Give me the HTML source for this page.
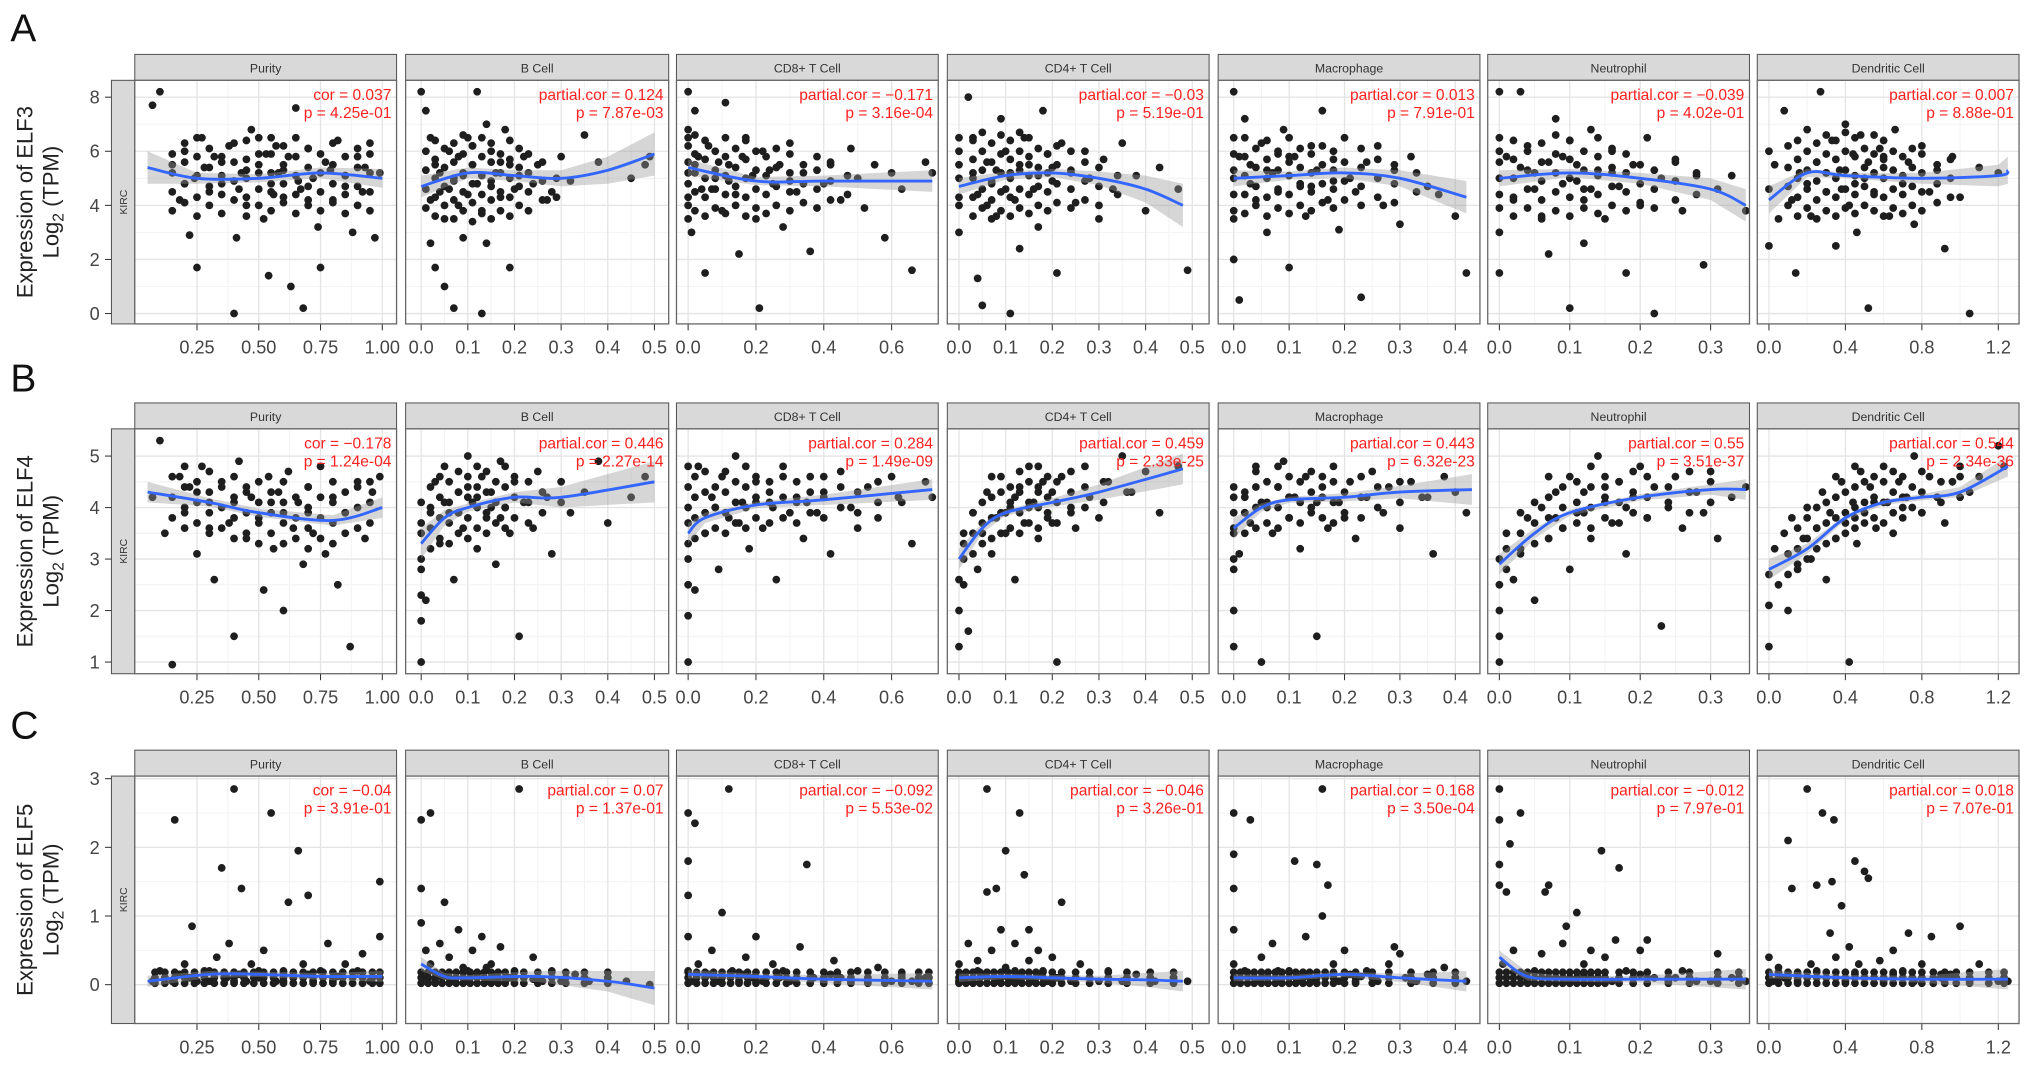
<!DOCTYPE html>
<html><head><meta charset="utf-8"><style>
html,body{margin:0;padding:0;background:#fff}
svg{display:block;font-family:"Liberation Sans",sans-serif}
</style></head><body>
<svg id="fig" width="2032" height="1065" viewBox="0 0 1568 822" preserveAspectRatio="none" xmlns="http://www.w3.org/2000/svg"></svg>
<script>
const cellTypes=["Purity","B Cell","CD8+ T Cell","CD4+ T Cell","Macrophage","Neutrophil","Dendritic Cell"];
const genes=["ELF3","ELF4","ELF5"];
const rowLetters=["A","B","C"];
const xTicks=[[0.25,0.5,0.75,1.0],[0,0.1,0.2,0.3,0.4,0.5],[0,0.2,0.4,0.6],[0,0.1,0.2,0.3,0.4,0.5],[0,0.1,0.2,0.3,0.4],[0,0.1,0.2,0.3],[0,0.4,0.8,1.2]];
const xTickLabels=[["0.25","0.50","0.75","1.00"],["0.0","0.1","0.2","0.3","0.4","0.5"],["0.0","0.2","0.4","0.6"],["0.0","0.1","0.2","0.3","0.4","0.5"],["0.0","0.1","0.2","0.3","0.4"],["0.0","0.1","0.2","0.3"],["0.0","0.4","0.8","1.2"]];
const yTicks=[[0,2,4,6,8],[1,2,3,4,5],[0,1,2,3]];
const statsCor=[["cor = 0.037","partial.cor = 0.124","partial.cor = −0.171","partial.cor = −0.03","partial.cor = 0.013","partial.cor = −0.039","partial.cor = 0.007"],
["cor = −0.178","partial.cor = 0.446","partial.cor = 0.284","partial.cor = 0.459","partial.cor = 0.443","partial.cor = 0.55","partial.cor = 0.544"],
["cor = −0.04","partial.cor = 0.07","partial.cor = −0.092","partial.cor = −0.046","partial.cor = 0.168","partial.cor = −0.012","partial.cor = 0.018"]];
const statsP=[["p = 4.25e-01","p = 7.87e-03","p = 3.16e-04","p = 5.19e-01","p = 7.91e-01","p = 4.02e-01","p = 8.88e-01"],
["p = 1.24e-04","p = 2.27e-14","p = 1.49e-09","p = 2.33e-25","p = 6.32e-23","p = 3.51e-37","p = 2.34e-36"],
["p = 3.91e-01","p = 1.37e-01","p = 5.53e-02","p = 3.26e-01","p = 3.50e-04","p = 7.97e-01","p = 7.07e-01"]];
const fitX=[[0.05,0.25,0.5,0.75,1.0],[0,0.1,0.2,0.3,0.4,0.5],[0,0.2,0.4,0.72],[0,0.1,0.2,0.3,0.4,0.48],[0,0.1,0.2,0.3,0.42],[0,0.1,0.2,0.3,0.35],[0,0.2,0.4,0.8,1.2,1.25]];
const fitXB=[[0.05,0.3,0.5,0.8,1.0],[0,0.05,0.1,0.2,0.3,0.5],[0,0.05,0.2,0.4,0.72],[0,0.05,0.1,0.2,0.3,0.48],[0,0.05,0.1,0.2,0.3,0.43],[0,0.05,0.1,0.2,0.3,0.35],[0,0.2,0.4,0.6,0.8,1.0,1.25]];
const fitXC=[[0.05,0.3,0.5,0.75,1.0],[0,0.05,0.1,0.25,0.4,0.5],[0,0.2,0.4,0.72],[0,0.1,0.2,0.3,0.4,0.48],[0,0.1,0.2,0.3,0.42],[0,0.04,0.1,0.2,0.35],[0,0.4,0.8,1.25]];
const fitYA=[[5.4,5.0,5.0,5.2,5.0],[4.7,5.2,5.1,5.0,5.3,5.9],[5.4,4.9,4.9,4.9],[4.7,5.1,5.2,5.0,4.6,4.0],[5.0,5.1,5.2,5.0,4.3],[5.0,5.2,5.0,4.6,4.0],[4.2,5.2,5.1,5.0,5.1,5.3]];
const fitYB=[[4.3,4.1,3.9,3.75,4.0],[3.3,3.8,4.0,4.2,4.2,4.5],[3.5,3.8,4.05,4.15,4.35],[3.0,3.6,3.9,4.1,4.3,4.75],[3.6,4.0,4.15,4.2,4.3,4.35],[2.9,3.5,3.9,4.2,4.35,4.35],[2.8,3.2,3.8,4.1,4.2,4.3,4.8]];
const fitYC=[[0.05,0.15,0.15,0.12,0.12],[0.3,0.12,0.1,0.12,0.05,-0.05],[0.15,0.12,0.08,0.05],[0.1,0.12,0.1,0.08,0.07,0.05],[0.1,0.1,0.15,0.1,0.05],[0.4,0.12,0.08,0.08,0.08],[0.15,0.1,0.08,0.08]];
const seA=[[0.6,0.2,0.15,0.2,0.35],[0.4,0.2,0.2,0.3,0.5,0.8],[0.3,0.15,0.2,0.4],[0.3,0.15,0.15,0.25,0.5,0.8],[0.3,0.15,0.2,0.3,0.6],[0.3,0.15,0.2,0.4,0.6],[0.5,0.15,0.1,0.2,0.4,0.5]];
const seB=[[0.2,0.08,0.08,0.1,0.2],[0.3,0.15,0.08,0.1,0.2,0.4],[0.2,0.1,0.06,0.1,0.2],[0.2,0.1,0.06,0.08,0.15,0.3],[0.2,0.08,0.06,0.08,0.12,0.3],[0.2,0.1,0.06,0.06,0.1,0.2],[0.2,0.1,0.05,0.05,0.06,0.1,0.2]];
const seC=[[0.08,0.05,0.04,0.05,0.08],[0.1,0.05,0.04,0.08,0.15,0.25],[0.06,0.04,0.06,0.12],[0.06,0.04,0.04,0.05,0.1,0.15],[0.05,0.04,0.04,0.06,0.15],[0.1,0.06,0.04,0.05,0.15],[0.06,0.04,0.05,0.15]];
const ptsA=[
[0.07,7.7,0.1,8.2,0.15,5.5,0.18,4.2,0.2,6,0.22,2.9,0.24,5,0.25,1.7,0.27,6.5,0.3,4.5,0.32,5.8,0.35,4.8,0.38,6.2,0.4,0,0.41,2.8,0.43,5.2,0.45,4,0.47,6.8,0.5,5.5,0.52,3.5,0.54,1.4,0.55,4.8,0.57,6.2,0.58,5.2,0.6,4.3,0.62,5.8,0.63,1,0.65,7.6,0.67,4.6,0.68,0.2,0.7,6.1,0.72,5,0.74,3.2,0.75,1.7,0.77,5.6,0.8,4.2,0.82,6.4,0.85,5.1,0.88,3,0.9,5.8,0.92,4.5,0.95,6.3,0.97,2.8,0.99,5.2,0.53,5.9,0.6,5.3,0.66,4.9,0.45,5.3,0.35,5.6,0.85,4.7,0.2,4.8,0.28,5.4,0.42,4.6,0.56,4.4,0.7,4.2,0.79,5.3,0.93,5.4],
[0,8.2,0.01,7.5,0.02,6.5,0.03,5.5,0.04,4.5,0.05,3.5,0.02,2.6,0.03,1.7,0.05,1,0.06,6,0.07,5,0.08,4,0.09,2.8,0.07,0.2,0.1,6.5,0.11,5.5,0.12,4.8,0.13,3.8,0.12,8.2,0.14,7,0.15,6,0.16,5.2,0.17,4.3,0.14,2.6,0.13,0,0.18,6.8,0.19,5.5,0.2,4.6,0.19,1.7,0.22,5.8,0.24,4.8,0.25,5.5,0.27,4.2,0.28,4.5,0.3,5.8,0.32,4.9,0.35,6.6,0.38,5.6,0.45,5,0.48,5.5,0.49,5.8,0.04,5.2,0.08,5.8,0.1,4.4,0.06,4.6,0.15,4.7,0.11,6.2,0.02,4.2,0.09,5.1,0.17,5.6,0.21,5.1],
[0,8.2,0,6.5,0,5.2,0,4,0.01,3,0.02,7.5,0.03,5.8,0.04,4.6,0.05,1.5,0.06,6.2,0.08,5,0.1,3.8,0.11,7.8,0.12,5.5,0.14,4.4,0.15,2.2,0.17,6.5,0.19,5.1,0.2,3.5,0.21,0.2,0.22,6,0.25,4.8,0.27,5.5,0.28,3.2,0.3,6.3,0.32,4.5,0.34,5.2,0.36,2.3,0.38,5.8,0.4,4.8,0.42,5.5,0.45,4.2,0.48,6.1,0.5,5,0.52,3.9,0.55,5.5,0.58,2.8,0.6,5.2,0.63,4.6,0.66,1.6,0.7,5.6,0.72,5.2,0.07,4.6,0.16,5.8,0.24,5.3,0.12,4.9,0.02,5.5,0.09,5.6,0.3,4.9],
[0,6,0,5,0,4,0,3,0.02,8,0.03,6.5,0.04,4.4,0.04,1.3,0.05,0.3,0.06,5.6,0.07,4.8,0.08,3.6,0.09,7.2,0.1,6,0.11,5.2,0.11,0,0.12,4.2,0.13,2.4,0.14,6.5,0.15,5.5,0.16,4.6,0.17,3.2,0.18,7.5,0.19,5.9,0.2,4.9,0.21,1.5,0.22,6.3,0.24,5.2,0.25,4.1,0.27,6,0.28,5,0.3,3.5,0.31,5.7,0.33,4.6,0.35,6.3,0.38,5.1,0.4,3.8,0.43,5.4,0.47,4.6,0.49,1.6,0.08,5.3,0.13,5.5,0.17,5.1,0.06,4,0.03,5.2,0.1,4.6,0.2,5.4],
[0,8.2,0,6.5,0,5,0,3.5,0,2,0.01,0.5,0.02,7.2,0.03,5.5,0.04,4.2,0.05,6.3,0.06,3,0.07,5.2,0.08,4.5,0.09,6.8,0.1,1.7,0.11,5.8,0.12,4.8,0.13,3.6,0.14,6.2,0.15,5.3,0.16,7.5,0.17,4.2,0.18,5.7,0.19,3.1,0.2,6.5,0.21,5,0.22,4.5,0.23,0.6,0.24,5.6,0.26,6.2,0.27,4,0.29,5.3,0.3,3.3,0.32,5.8,0.35,4.7,0.37,4.4,0.4,3.6,0.42,1.5,0.06,5.3,0.1,5.6,0.14,4.7,0.03,4.8,0.01,5.8,0.08,5.9,0.18,4.9],
[0,8.2,0,6.5,0,5,0,3,0,1.5,0.01,5.8,0.02,4.2,0.03,8.2,0.04,6.2,0.05,5.2,0.06,3.6,0.07,5.6,0.07,2.2,0.08,7.2,0.09,4.8,0.1,6.4,0.1,0.2,0.11,5.5,0.12,4.2,0.12,2.6,0.13,6.8,0.14,5.3,0.15,3.5,0.16,6,0.17,4.7,0.18,1.5,0.19,5.5,0.2,4,0.21,6.5,0.22,0,0.23,5,0.25,5.7,0.26,3.8,0.28,5.2,0.29,1.8,0.31,4.6,0.33,5.1,0.35,3.8,0.05,4.6,0.09,5.8,0.13,4.6,0.03,5.4,0.11,4.9,0.16,5.2],
[0,6,0,4.6,0,2.5,0.03,5.5,0.05,3.5,0.08,7.5,0.1,6.2,0.12,4.2,0.14,1.5,0.16,5.2,0.2,6.8,0.22,3.6,0.25,5.6,0.27,8.2,0.3,4.5,0.33,6.4,0.35,2.5,0.37,5.3,0.4,7,0.42,4,0.44,5.9,0.46,3,0.48,6.6,0.5,5,0.52,0.2,0.55,4.4,0.58,6.1,0.6,5.4,0.63,3.6,0.66,6.8,0.7,4.8,0.73,5.6,0.76,3.3,0.8,6.2,0.84,4.5,0.88,5.3,0.92,2.4,0.96,5.8,1.0,4.3,1.05,0,1.1,5.4,1.2,5.2,0.3,5.2,0.45,4.8,0.6,5.8,0.2,4.8,0.38,4.6,0.52,5.6]];
const ptsB=[
[0.07,4.2,0.1,5.3,0.12,3.5,0.15,0.95,0.18,4.6,0.2,3.9,0.22,4.4,0.25,3.1,0.27,4.8,0.3,4.1,0.32,2.6,0.35,4.5,0.38,3.7,0.4,1.5,0.42,4.9,0.45,3.4,0.47,4.2,0.5,3.8,0.52,2.4,0.54,4.6,0.56,3.2,0.58,4.3,0.6,2,0.62,4.7,0.64,3.6,0.66,4.1,0.68,2.9,0.7,4.4,0.72,3.5,0.75,4.8,0.77,3.1,0.8,4.2,0.82,2.5,0.85,3.9,0.87,1.3,0.9,4.5,0.93,3.4,0.96,4.3,0.99,4.6,0.45,4.4,0.6,3.9,0.3,3.6,0.25,4.3,0.55,4.1,0.7,3.9,0.4,4.1],
[0,1,0,1.8,0,2.8,0,3.5,0.01,2.2,0.02,3.9,0.03,4.5,0.04,3.3,0.05,4.8,0.06,3.9,0.07,2.6,0.08,4.3,0.09,3.6,0.1,5,0.11,4.1,0.12,3.2,0.13,4.6,0.14,3.8,0.15,4.3,0.16,2.9,0.17,4.9,0.18,4,0.19,3.5,0.2,4.5,0.21,1.5,0.22,4.1,0.24,3.6,0.25,4.7,0.27,4.2,0.28,3.1,0.3,4.5,0.32,3.9,0.35,4.3,0.38,4.9,0.4,3.7,0.45,4.2,0.48,4.6,0.08,3.9,0.12,4.2,0.17,3.8,0.05,4.1,0.1,4.4,0.15,4.0],
[0,1,0,1.9,0,3,0,4.4,0,3.7,0.02,2.4,0.03,4.8,0.05,3.5,0.07,4.2,0.09,2.8,0.1,4.6,0.12,3.8,0.14,5,0.16,4.1,0.18,3.2,0.2,4.5,0.22,3.6,0.24,4.3,0.26,2.6,0.28,4.8,0.3,3.9,0.32,4.2,0.34,3.4,0.36,4.6,0.38,3.9,0.4,4.3,0.42,3.1,0.45,4.7,0.48,4,0.5,3.6,0.53,4.4,0.56,3.8,0.6,4.6,0.63,4.1,0.66,3.3,0.7,4.5,0.72,4.2,0.15,3.7,0.25,4.0,0.35,4.1,0.08,4.0,0.2,4.1],
[0,1.3,0,2,0,2.6,0.01,3.3,0.02,1.6,0.03,3.9,0.04,2.8,0.05,3.5,0.06,4.3,0.07,3.1,0.08,3.8,0.09,4.6,0.1,3.5,0.11,4.1,0.12,2.6,0.13,4.4,0.14,3.7,0.15,4.8,0.16,4.1,0.17,3.4,0.18,4.5,0.19,3.9,0.2,4.3,0.21,1,0.22,4.6,0.24,4,0.25,3.6,0.27,4.8,0.28,4.2,0.3,3.8,0.32,4.5,0.35,5,0.37,4.3,0.4,4.7,0.43,3.9,0.47,4.8,0.1,3.9,0.15,4.0,0.2,3.7,0.12,4.2,0.17,4.3],
[0,1.3,0,2,0,2.8,0,3.6,0,4.4,0.01,3.1,0.02,4.2,0.03,3.7,0.04,4.7,0.05,1,0.06,4,0.07,3.5,0.08,4.4,0.09,4.9,0.1,3.8,0.11,4.2,0.12,3.2,0.13,4.6,0.14,4,0.15,1.5,0.16,4.4,0.17,3.6,0.18,4.8,0.19,4.1,0.2,3.8,0.21,4.5,0.22,3.4,0.24,4.2,0.25,4.7,0.27,3.9,0.28,4.4,0.3,3.6,0.32,4.5,0.35,4.2,0.36,3.1,0.38,4.6,0.4,4.3,0.42,3.9,0.05,4.1,0.1,4.2,0.15,4.1,0.02,3.9],
[0,1,0,1.5,0,2,0,2.5,0,3,0.01,3.5,0.02,2.6,0.03,3.2,0.04,3.8,0.05,2.2,0.06,4,0.07,3.4,0.08,4.3,0.09,3.6,0.1,4.6,0.1,2.8,0.11,3.9,0.12,4.3,0.13,3.4,0.14,5,0.15,4.1,0.16,3.7,0.17,4.5,0.18,3.1,0.19,4.2,0.2,4.8,0.21,3.8,0.22,4.4,0.23,1.7,0.24,4.1,0.25,4.6,0.26,3.6,0.28,4.3,0.29,3.9,0.3,4.7,0.31,3.4,0.33,4.2,0.35,4.4,0.12,3.9,0.18,4.0,0.08,3.8,0.15,4.4],
[0,1.3,0,2.1,0,2.7,0.03,3.2,0.05,2.5,0.08,3.5,0.1,2,0.12,3.8,0.15,2.9,0.18,3.4,0.2,4,0.22,3,0.25,3.6,0.28,4.3,0.3,2.6,0.32,3.9,0.35,3.4,0.38,4.5,0.4,3.7,0.42,1,0.44,4.1,0.46,3.3,0.48,4.7,0.5,3.9,0.53,4.4,0.56,3.6,0.6,4.8,0.62,4.1,0.65,3.5,0.68,4.5,0.72,4.2,0.76,5,0.8,3.9,0.84,4.6,0.88,4.2,0.92,3.7,0.96,4.5,1.0,4.8,1.05,4.3,1.1,4.6,1.2,5.2,1.23,4.8,0.45,3.8,0.55,4.1,0.7,4.0]];
const ptsC=[
[0.07,0.05,0.1,0.2,0.12,0.1,0.15,0.05,0.16,2.4,0.2,0.3,0.22,0.1,0.23,0.85,0.25,0.05,0.28,0.2,0.3,0.05,0.33,0.4,0.35,1.7,0.37,0.1,0.38,0.6,0.4,2.85,0.42,0.15,0.43,1.4,0.45,0.05,0.47,0.3,0.5,0.1,0.52,0.5,0.55,2.5,0.57,0.05,0.6,0.2,0.62,1.2,0.64,0.1,0.66,1.95,0.68,0.3,0.7,1.3,0.72,0.05,0.75,0.2,0.78,0.6,0.8,0.05,0.85,0.3,0.88,0.1,0.92,0.45,0.95,0.05,0.99,1.5,0.99,0.7,0.5,0.2,0.3,0.2,0.7,0.15,0.9,0.2,0.18,0.15,0.4,0.05,0.6,0.05,0.82,0.12],
[0,2.4,0,1.4,0,0.9,0.01,0.5,0.01,0.1,0.02,2.5,0.02,0.3,0.03,0.05,0.04,0.6,0.05,1.2,0.05,0.15,0.06,0.4,0.07,0.05,0.08,0.8,0.09,0.25,0.1,0.05,0.11,0.5,0.12,0.15,0.13,0.7,0.14,0.05,0.15,0.3,0.16,0.1,0.17,0.55,0.18,0.05,0.2,0.2,0.21,2.85,0.22,0.1,0.24,0.4,0.26,0.05,0.28,0.2,0.3,0.05,0.33,0.15,0.36,0.05,0.4,0.1,0.44,0.05,0.49,0,0.06,0.1,0.1,0.2,0.14,0.25,0.19,0.1,0.24,0.08],
[0,2.5,0,1.8,0,1.3,0,0.7,0,0.2,0.01,0.05,0.02,2.35,0.03,0.3,0.05,0.1,0.07,0.5,0.09,0.05,0.1,1.05,0.12,2.85,0.13,0.2,0.15,0.05,0.17,0.4,0.19,0.1,0.2,0.7,0.22,0.05,0.25,0.3,0.27,0.1,0.3,0.05,0.33,0.55,0.35,1.75,0.37,0.1,0.4,0.05,0.43,0.35,0.45,0.1,0.48,0.05,0.5,0.2,0.53,0.05,0.56,0.25,0.6,0.05,0.63,0.15,0.66,0.05,0.7,0.1,0.06,0.15,0.16,0.15,0.28,0.2,0.42,0.15],
[0,0.05,0,0.3,0.01,0.1,0.02,0.6,0.03,0.05,0.04,0.35,0.05,0.15,0.06,1.35,0.06,2.85,0.07,0.5,0.08,1.4,0.08,0.05,0.09,0.8,0.1,0.25,0.1,1.95,0.11,0.05,0.12,0.6,0.13,2.5,0.13,0.1,0.14,1.6,0.15,0.35,0.15,0.8,0.16,0.05,0.17,0.5,0.18,0.2,0.19,0.05,0.2,0.4,0.21,0.1,0.22,1.2,0.24,0.05,0.26,0.3,0.28,0.1,0.3,0.05,0.32,0.2,0.35,0.05,0.38,0.15,0.42,0.05,0.46,0.1,0.49,0.05,0.04,0.2,0.12,0.2,0.17,0.15],
[0,2.5,0,1.9,0,1.4,0,0.8,0,0.3,0.01,0.05,0.02,0.2,0.03,2.4,0.04,0.05,0.05,0.4,0.06,0.1,0.07,0.6,0.08,0.05,0.1,0.2,0.11,1.8,0.12,0.1,0.13,0.7,0.14,0.05,0.15,1.75,0.16,2.85,0.16,1.0,0.17,1.45,0.18,0.3,0.19,0.05,0.2,0.5,0.21,0.15,0.22,0.05,0.24,0.2,0.26,0.05,0.28,0.3,0.29,0.55,0.3,0.45,0.31,0.1,0.33,0.05,0.35,0.15,0.38,0.25,0.4,0.05,0.42,0.05,0.08,0.2,0.13,0.15,0.18,0.15,0.23,0.12],
[0,2.85,0,2.4,0,1.75,0,1.45,0.01,1.35,0.015,2.05,0.03,2.5,0,0.1,0.005,0.3,0.02,0.5,0.03,0.1,0.04,0.05,0.05,0.2,0.06,0.45,0.065,1.35,0.07,1.45,0.08,0.1,0.09,0.6,0.095,0.85,0.1,0.05,0.11,1.05,0.12,0.3,0.13,0.5,0.14,0.1,0.145,1.95,0.15,0.4,0.16,0.05,0.165,0.65,0.17,1.7,0.18,0.2,0.2,0.5,0.21,0.65,0.22,0.1,0.24,0.05,0.26,0.2,0.28,0.05,0.3,0.05,0.31,0.45,0.33,0.1,0.35,0.05,0.12,0.15,0.2,0.15,0.25,0.1],
[0,0.1,0,0.4,0.02,0.05,0.05,0.25,0.08,0.1,0.1,2.1,0.12,1.4,0.15,0.05,0.2,2.85,0.22,0.3,0.25,1.45,0.28,2.5,0.3,0.1,0.32,0.75,0.33,1.5,0.34,2.4,0.35,0.4,0.38,1.15,0.4,0.05,0.42,0.55,0.45,1.8,0.47,0.3,0.5,1.65,0.52,1.55,0.55,0.1,0.58,0.35,0.6,0.05,0.65,0.5,0.7,0.2,0.73,0.75,0.76,0.05,0.8,0.3,0.85,0.7,0.9,0.1,0.95,0.15,1.0,0.85,1.05,0.05,1.1,0.3,1.2,0.05,1.25,0.05,0.15,0.15,0.45,0.15,0.65,0.15,0.9,0.15,0.25,0.2]];
// dense cores: each entry = [x, y1, y2, ...]
const coreA=[
[[0.15,3.8,4.5,5.2,5.9],[0.2,4.1,4.8,5.6,6.3],[0.25,3.6,4.3,5.1,5.8,6.5],[0.3,4,4.7,5.4,6.1],[0.35,3.7,4.4,5.1,5.8],[0.4,4.2,4.9,5.6,6.3],[0.45,3.6,4.3,5,5.7,6.4],[0.5,4,4.6,5.2,5.9,6.5],[0.55,3.8,4.5,5.2,5.9,6.5],[0.6,4.1,4.8,5.5,6.2],[0.65,3.7,4.4,5.1,5.8,6.5],[0.7,4,4.7,5.4,6.1],[0.75,3.8,4.5,5.2,5.9],[0.8,4.1,4.8,5.5,6.3],[0.85,3.7,4.4,5.1,5.8],[0.9,4,4.7,5.4,6.1],[0.95,3.8,4.5,5.2,5.9]],
[[0.01,3.9,4.6,5.3,6],[0.03,3.6,4.3,5,5.7,6.4],[0.05,4,4.7,5.4,6.1],[0.07,3.5,4.2,4.9,5.6,6.3],[0.09,3.8,4.5,5.2,5.9,6.6],[0.11,3.4,4.1,4.8,5.5,6.2],[0.13,3.7,4.4,5.1,5.8,6.5],[0.15,3.5,4.2,4.9,5.6,6.3],[0.17,3.8,4.5,5.2,5.9],[0.19,3.6,4.3,5,5.7,6.4],[0.21,4,4.7,5.4,6.1],[0.23,3.8,4.5,5.2,5.9],[0.26,4.2,4.9,5.6],[0.29,4.3,5]],
[[0,3.5,4.3,4.8,5.6,6.2,6.8],[0.02,3.8,4.5,5.2,5.9,6.6],[0.05,3.6,4.3,5,5.7,6.4],[0.08,3.9,4.6,5.3,6],[0.11,3.7,4.4,5.1,5.8,6.5],[0.14,4,4.7,5.4,6.1],[0.17,3.6,4.3,5,5.7,6.4],[0.2,3.9,4.6,5.3,6],[0.23,3.7,4.4,5.1,5.8],[0.26,4,4.7,5.4,6.1],[0.3,3.8,4.5,5.2,5.9],[0.34,4.1,4.8,5.5],[0.38,3.9,4.6,5.3],[0.42,4.2,4.9,5.6],[0.47,4.4,5.1]],
[[0,4.3,5.5,6.5],[0.03,3.6,4.3,5,5.7,6.4],[0.05,3.9,4.6,5.3,6,6.7],[0.07,3.5,4.2,4.9,5.6,6.3],[0.09,3.8,4.5,5.2,5.9,6.6],[0.11,3.6,4.3,5,5.7,6.4],[0.13,3.9,4.6,5.3,6,6.7],[0.15,3.7,4.4,5.1,5.8,6.5],[0.17,4,4.7,5.4,6.1],[0.19,3.8,4.5,5.2,5.9],[0.21,4.1,4.8,5.5,6.2],[0.24,3.9,4.6,5.3,6],[0.27,4.2,4.9,5.6],[0.3,4,4.7,5.4],[0.34,4.4,5.1]],
[[0,3.8,4.4,5.3,5.9],[0.02,3.7,4.4,5.1,5.8,6.5],[0.04,4,4.7,5.4,6.1],[0.06,3.6,4.3,5,5.7,6.4],[0.08,3.9,4.6,5.3,6],[0.1,3.7,4.4,5.1,5.8,6.5],[0.12,4,4.7,5.4,6.1],[0.14,3.8,4.5,5.2,5.9],[0.16,4.1,4.8,5.5,6.2],[0.18,3.9,4.6,5.3,6],[0.2,4.2,4.9,5.6],[0.23,4,4.7,5.4,6.1],[0.26,4.3,5,5.7],[0.29,4.1,4.8,5.5],[0.33,4.5,5.2]],
[[0,3.9,4.4,5.6,6],[0.02,3.6,4.3,5,5.7,6.4],[0.04,3.9,4.6,5.3,6],[0.06,3.5,4.2,4.9,5.6,6.3],[0.08,3.8,4.5,5.2,5.9,6.6],[0.1,3.6,4.3,5,5.7,6.4],[0.12,3.9,4.6,5.3,6],[0.14,3.7,4.4,5.1,5.8,6.5],[0.16,4,4.7,5.4,6.1],[0.18,3.8,4.5,5.2,5.9],[0.2,4.1,4.8,5.5],[0.22,3.9,4.6,5.3],[0.25,4.2,4.9,5.6],[0.28,4.4,5.1]],
[[0.1,4,4.7,5.4],[0.15,3.6,4.3,5,5.7,6.4],[0.2,3.9,4.6,5.3,6],[0.25,3.5,4.2,4.9,5.6,6.3],[0.3,3.8,4.5,5.2,5.9,6.6],[0.35,3.6,4.3,5,5.7,6.4],[0.4,3.9,4.6,5.3,6,6.7],[0.45,3.7,4.4,5.1,5.8,6.5],[0.5,4,4.7,5.4,6.1],[0.55,3.8,4.5,5.2,5.9,6.6],[0.6,3.6,4.3,5,5.7,6.4],[0.65,3.9,4.6,5.3,6],[0.7,3.7,4.4,5.1,5.8],[0.75,4,4.7,5.4,6.1],[0.8,3.8,4.5,5.2,5.9],[0.88,4.1,4.8,5.5],[0.95,4.3,5,5.7]]];
const coreB=[
[[0.15,3.8,4.2,4.6],[0.2,3.6,4,4.4,4.8],[0.25,3.7,4.1,4.5],[0.3,3.5,3.9,4.3,4.7],[0.35,3.6,4,4.4],[0.4,3.4,3.8,4.2,4.6],[0.45,3.5,3.9,4.3],[0.5,3.3,3.7,4.1,4.5],[0.55,3.5,3.9,4.3],[0.6,3.3,3.7,4.1,4.5],[0.65,3.4,3.8,4.2],[0.7,3.2,3.6,4,4.4],[0.75,3.4,3.8,4.2],[0.8,3.3,3.7,4.1,4.5],[0.85,3.5,3.9,4.3],[0.9,3.6,4,4.4],[0.95,3.7,4.1,4.5]],
[[0,2.3,3,3.7,4.1],[0.02,3.2,3.6,4,4.4],[0.04,3.4,3.8,4.2,4.6],[0.06,3.3,3.7,4.1,4.5],[0.08,3.5,3.9,4.3,4.7],[0.1,3.4,3.8,4.2,4.6],[0.12,3.6,4,4.4,4.8],[0.14,3.5,3.9,4.3,4.7],[0.16,3.7,4.1,4.5],[0.18,3.6,4,4.4,4.8],[0.2,3.8,4.2,4.6],[0.23,3.7,4.1,4.5],[0.26,3.9,4.3],[0.3,4.1]],
[[0,2.5,3.3,4,4.8],[0.02,3.4,3.8,4.2,4.6],[0.05,3.5,3.9,4.3,4.7],[0.08,3.6,4,4.4],[0.11,3.5,3.9,4.3,4.7],[0.14,3.7,4.1,4.5],[0.17,3.6,4,4.4,4.8],[0.2,3.8,4.2,4.6],[0.24,3.7,4.1,4.5],[0.28,3.8,4.2,4.6],[0.32,3.7,4.1,4.5],[0.36,3.9,4.3],[0.4,3.8,4.2,4.6],[0.45,4,4.4],[0.5,3.9,4.3],[0.56,4.1,4.5],[0.62,4.2]],
[[0.01,2.5,3,3.5],[0.03,3.1,3.5,3.9],[0.05,3.3,3.7,4.1],[0.07,3.4,3.8,4.2,4.6],[0.09,3.5,3.9,4.3],[0.11,3.6,4,4.4],[0.13,3.5,3.9,4.3,4.7],[0.15,3.7,4.1,4.5],[0.17,3.6,4,4.4,4.8],[0.19,3.8,4.2,4.6],[0.21,3.7,4.1,4.5],[0.24,3.9,4.3,4.7],[0.27,4,4.4],[0.31,4.1,4.5],[0.36,4.3]],
[[0,3,3.5,3.9,4.2],[0.02,3.5,3.9,4.3],[0.04,3.6,4,4.4,4.8],[0.06,3.7,4.1,4.5],[0.08,3.6,4,4.4,4.8],[0.1,3.8,4.2,4.6],[0.12,3.7,4.1,4.5],[0.14,3.9,4.3,4.7],[0.16,3.8,4.2,4.6],[0.18,3.7,4.1,4.5],[0.2,3.9,4.3],[0.23,3.8,4.2,4.6],[0.26,4,4.4],[0.3,4.1,4.5],[0.34,4.2]],
[[0.01,2.8,3.2],[0.03,3.1,3.5,3.9],[0.05,3.3,3.7,4.1],[0.07,3.4,3.8,4.2,4.6],[0.09,3.6,4,4.4],[0.11,3.7,4.1,4.5],[0.13,3.6,4,4.4,4.8],[0.15,3.8,4.2,4.6],[0.17,3.7,4.1,4.5],[0.19,3.9,4.3,4.7],[0.21,3.8,4.2,4.6],[0.24,4,4.4],[0.27,3.9,4.3,4.7],[0.3,4.1,4.5]],
[[0.1,2.7,3.1],[0.15,2.8,3.2,3.6],[0.2,3,3.4,3.8],[0.25,3.2,3.6,4],[0.3,3.3,3.7,4.1],[0.35,3.4,3.8,4.2,4.6],[0.4,3.5,3.9,4.3],[0.45,3.6,4,4.4,4.8],[0.5,3.7,4.1,4.5],[0.55,3.8,4.2,4.6],[0.6,3.7,4.1,4.5],[0.65,3.9,4.3,4.7],[0.7,3.8,4.2,4.6],[0.75,4,4.4],[0.8,3.9,4.3,4.7],[0.9,4.1,4.5],[1.0,4.2,4.6]]];
const cBandX=[[0.08,0.12,0.16,0.2,0.24,0.28,0.32,0.36,0.4,0.44,0.48,0.52,0.56,0.6,0.64,0.68,0.72,0.76,0.8,0.84,0.88,0.92,0.96,0.99],
[0,0.015,0.03,0.045,0.06,0.075,0.09,0.105,0.12,0.135,0.15,0.165,0.18,0.2,0.22,0.25,0.28,0.31,0.35,0.4],
[0,0.025,0.05,0.075,0.1,0.125,0.15,0.175,0.2,0.23,0.26,0.29,0.32,0.36,0.4,0.44,0.48,0.53,0.58,0.63,0.68,0.71],
[0,0.015,0.03,0.045,0.06,0.075,0.09,0.105,0.12,0.135,0.15,0.165,0.18,0.2,0.22,0.25,0.28,0.32,0.36,0.41,0.46],
[0,0.012,0.025,0.037,0.05,0.062,0.075,0.087,0.1,0.112,0.125,0.137,0.15,0.165,0.18,0.2,0.22,0.25,0.28,0.32,0.36,0.4],
[0,0.01,0.02,0.03,0.04,0.05,0.06,0.07,0.08,0.09,0.1,0.11,0.12,0.13,0.14,0.15,0.17,0.19,0.21,0.24,0.27,0.31,0.34],
[0,0.05,0.1,0.15,0.2,0.25,0.3,0.35,0.4,0.45,0.5,0.55,0.6,0.65,0.7,0.75,0.8,0.86,0.92,0.98,1.05,1.15,1.23]];
const cBandY=[0.02,0.1,0.18];

const NS="http://www.w3.org/2000/svg";
const svg=document.getElementById('fig');
function mk(tag,attrs,parent){const e=document.createElementNS(NS,tag);for(const k in attrs)e.setAttribute(k,attrs[k]);(parent||svg).appendChild(e);return e;}
const panelX=[[104,306],[313,516],[522,724],[731,933],[940,1142],[1148,1350],[1356,1558]];
const xCal=[[0.25,152,1.0,295],[0,325,0.5,505],[0,531,0.6,688],[0,740,0.5,920],[0,952,0.4,1123],[0,1157,0.3,1320],[0,1365,1.2,1542]];
const rowBox=[[42,62,250],[311,331,520],[579,599,790]];
const yCal=[[0,242,8,75],[1,511,5,352],[0,760,3,601]];
const letterY=[32,302,570];
function xs(c,v){const k=xCal[c];return k[1]+(v-k[0])/(k[2]-k[0])*(k[3]-k[1]);}
function ys(r,v){const k=yCal[r];return k[1]+(v-k[0])/(k[2]-k[0])*(k[3]-k[1]);}
const allPts=[ptsA,ptsB,ptsC], allCore=[coreA,coreB,null], allFitX=[fitX,fitXB,fitXC], allFitY=[fitYA,fitYB,fitYC], allSe=[seA,seB,seC];
const R=3.0;

for(let r=0;r<3;r++){
  const [sTop,pTop,pBot]=rowBox[r];
  const row=mk('g',{});
  
  
  const L=mk('text',{x:8,y:letterY[r],'font-size':30,fill:'#111'},row);L.textContent=rowLetters[r];
  
  
  const cy=(pTop+pBot)/2;
  const t1=mk('text',{x:0,y:0,'font-size':17,fill:'#222','text-anchor':'middle',transform:`translate(25,${cy}) rotate(-90)`},row);
  t1.textContent='Expression of '+genes[r];
  
  
  const t2=mk('text',{x:0,y:0,'font-size':17,fill:'#222','text-anchor':'middle',transform:`translate(45,${cy}) rotate(-90)`},row);
  t2.innerHTML='Log<tspan font-size="12" dy="4">2</tspan><tspan dy="-4"> (TPM)</tspan>';
  
  
  const ks=mk('rect',{x:86,y:pTop,width:18,height:pBot-pTop,fill:'#d9d9d9',stroke:'#555','stroke-width':0.8},row);
  
  
  const kt=mk('text',{x:0,y:0,'font-size':8,fill:'#333','text-anchor':'middle',transform:`translate(98,${cy}) rotate(-90)`},row);kt.textContent='KIRC';
  
  
  for(const v of yTicks[r]){
    const y=ys(r,v);
    mk('line',{x1:81,x2:86,y1:y,y2:y,stroke:'#333','stroke-width':0.8},row);
    const tl=mk('text',{x:77,y:y+5,'font-size':14,fill:'#444','text-anchor':'end'},row);tl.textContent=v;
    
    
  }
  for(let c=0;c<7;c++){
    const [x0,x1]=panelX[c];
    const g=mk('g',{},row);
    
    
    const st=mk('rect',{x:x0,y:sTop,width:x1-x0,height:pTop-sTop,fill:'#d9d9d9',stroke:'#555','stroke-width':0.8},g);
    
    
    const stt=mk('text',{x:(x0+x1)/2,y:sTop+14,'font-size':9.5,fill:'#333','text-anchor':'middle'},g);stt.textContent=cellTypes[c];
    
    
    mk('rect',{x:x0,y:pTop,width:x1-x0,height:pBot-pTop,fill:'#fff'},g);
    const clipId='cp'+r+'_'+c;
    const cp=mk('clipPath',{id:clipId},g);mk('rect',{x:x0,y:pTop,width:x1-x0,height:pBot-pTop},cp);
    const yt=yTicks[r], xt=xTicks[c];
    for(let i=0;i<yt.length-1;i++){const y=ys(r,(yt[i]+yt[i+1])/2);mk('line',{x1:x0,x2:x1,y1:y,y2:y,stroke:'#f3f3f3','stroke-width':0.8},g);}
    for(let i=0;i<xt.length-1;i++){const x=xs(c,(xt[i]+xt[i+1])/2);mk('line',{x1:x,x2:x,y1:pTop,y2:pBot,stroke:'#f3f3f3','stroke-width':0.8},g);}
    for(const v of yt){const y=ys(r,v);mk('line',{x1:x0,x2:x1,y1:y,y2:y,stroke:'#e4e4e4','stroke-width':1},g);}
    for(let i=0;i<xt.length;i++){const x=xs(c,xt[i]);mk('line',{x1:x,x2:x,y1:pTop,y2:pBot,stroke:'#e4e4e4','stroke-width':1},g);
      mk('line',{x1:x,x2:x,y1:pBot,y2:pBot+5,stroke:'#333','stroke-width':0.8},g);
      const xl=mk('text',{x:x,y:pBot+23,'font-size':14,fill:'#444','text-anchor':'middle'},g);xl.textContent=xTickLabels[c][i];
      
      }
    const inner=mk('g',{'clip-path':`url(#${clipId})`},g);
    const pg=mk('g',{fill:'#1e1e1e'},inner);
    
    
    const pts=allPts[r][c];
    for(let i=0;i<pts.length;i+=2){mk('circle',{cx:xs(c,pts[i]),cy:ys(r,pts[i+1]),r:R},pg);}
    if(allCore[r]){for(const e of allCore[r][c]){for(let j=1;j<e.length;j++)mk('circle',{cx:xs(c,e[0]),cy:ys(r,e[j]),r:R},pg);}}
    if(r===2){for(const bx of cBandX[c])for(const by of cBandY){mk('circle',{cx:xs(c,bx),cy:ys(r,by),r:R},pg);}}
    const fx=allFitX[r][c], fy=allFitY[r][c], se=allSe[r][c];
    let up=[],lo=[];
    for(let i=0;i<fx.length;i++){up.push(xs(c,fx[i])+','+ys(r,fy[i]+se[i]));lo.unshift(xs(c,fx[i])+','+ys(r,fy[i]-se[i]));}
    const band=mk('polygon',{points:up.concat(lo).join(' '),fill:'#999','fill-opacity':0.4},inner);
    
    
    const P=fx.map((v,i)=>[xs(c,v),ys(r,fy[i])]);
    let d='M'+P[0][0]+','+P[0][1];
    for(let i=0;i<P.length-1;i++){const p0=P[i-1]||P[i],p1=P[i],p2=P[i+1],p3=P[i+2]||p2;
      d+=` C${p1[0]+(p2[0]-p0[0])/6},${p1[1]+(p2[1]-p0[1])/6} ${p2[0]-(p3[0]-p1[0])/6},${p2[1]-(p3[1]-p1[1])/6} ${p2[0]},${p2[1]}`;}
    const fl=mk('path',{d:d,fill:'none',stroke:'#3366ff','stroke-width':2.2},inner);
    
    
    mk('rect',{x:x0,y:pTop,width:x1-x0,height:pBot-pTop,fill:'none',stroke:'#666','stroke-width':1},g);
    const s1=mk('text',{x:x1-4,y:pTop+15,'font-size':12,fill:'#ff2020','text-anchor':'end'},g);s1.textContent=statsCor[r][c];
    
    
    const s2=mk('text',{x:x1-4,y:pTop+29,'font-size':12,fill:'#ff2020','text-anchor':'end'},g);s2.textContent=statsP[r][c];
    
    
  }
}
</script>
</body></html>
